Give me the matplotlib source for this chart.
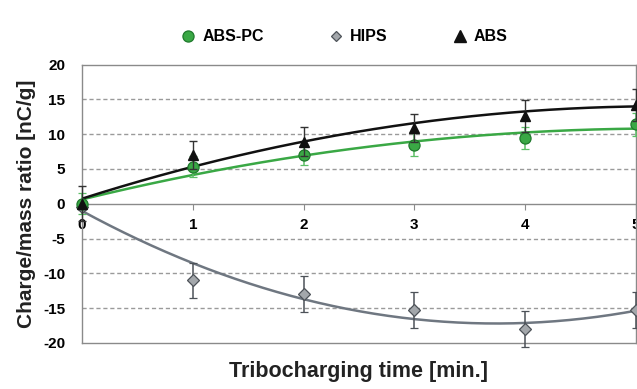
import numpy as np
import matplotlib
matplotlib.use("Agg")
import matplotlib.pyplot as plt
from matplotlib.lines import Line2D

plt.rcParams['font.family'] = ['Liberation Sans', 'DejaVu Sans']
plt.rcParams['font.weight'] = 'bold'

# ---- data ----
time_min = [0, 1, 2, 3, 4, 5]
abs_pc = [0.0, 5.3, 7.0, 8.5, 9.5, 11.4]
abs_pc_err = [1.5, 1.5, 1.5, 1.6, 1.6, 1.6]
hips = [-0.4, -11.0, -13.0, -15.3, -18.0, -15.3]
hips_err = [0.5, 2.5, 2.6, 2.6, 2.6, 2.6]
abs_ = [0.0, 7.0, 8.9, 10.9, 12.6, 14.2]
abs_err = [2.5, 2.0, 2.1, 2.0, 2.3, 2.3]

# quadratic trend-line coefficients (a, b, c)
fit_abs_pc = [-0.371, 3.89, 0.62]
fit_hips = [1.157, -8.651, -1.03]
fit_abs = [-0.484, 5.071, 0.73]

series_names = ["ABS-PC", "HIPS", "ABS"]
xtick_vals = [0, 1, 2, 3, 4, 5]
ytick_vals = [-20, -15, -10, -5, 0, 5, 10, 15, 20]

# ---- styles ----
green = "#3aa845"
green_dark = "#1f7a2c"
gray_fill = "#a3a7ab"
gray_edge = "#4d5258"
gray_line = "#6f7781"
black = "#111111"

fig = plt.figure(figsize=(6.37, 3.89), dpi=100)
fig.patch.set_facecolor("white")
ax = fig.add_axes([0.1287, 0.1183, 0.8697, 0.7157])

xs = np.linspace(0, 5, 200)
ax.plot(xs, np.polyval(fit_hips, xs), color=gray_line, lw=1.8, zorder=3)
ax.plot(xs, np.polyval(fit_abs_pc, xs), color=green, lw=1.8, zorder=3)
ax.plot(xs, np.polyval(fit_abs, xs), color=black, lw=1.8, zorder=4)

ax.errorbar(time_min, hips, yerr=hips_err, fmt="D", ms=6.5, mfc=gray_fill,
            mec=gray_edge, mew=0.9, ecolor=gray_edge, elinewidth=1.1,
            capsize=3, capthick=1.0, clip_on=False, zorder=5)
ax.errorbar(time_min, abs_pc, yerr=abs_pc_err, fmt="o", ms=8, mfc=green,
            mec=green_dark, mew=0.9, ecolor="#5cbf66", elinewidth=1.1,
            capsize=3, capthick=1.0, clip_on=False, zorder=5)
ax.errorbar(time_min, abs_, yerr=abs_err, fmt="^", ms=7.5, mfc=black,
            mec=black, ecolor="#333333", elinewidth=1.0,
            capsize=3, capthick=1.0, clip_on=False, zorder=6)

ax.set_xlim(0, 5)
ax.set_ylim(-20, 20)
ax.set_yticks(ytick_vals)
ax.set_yticklabels([str(v) for v in ytick_vals], fontsize=11, fontweight='bold')
ax.tick_params(axis='y', length=0, pad=12)
ax.tick_params(axis='x', bottom=False, labelbottom=False)

for v in ytick_vals:
    if v not in (-20, 0, 20):
        ax.axhline(v, color="#9a9a9a", lw=1.0, ls=(0, (3, 2)), zorder=1)

for s in ax.spines.values():
    s.set_color("#8a8a8a")
    s.set_linewidth(1.0)

sec = ax.secondary_xaxis(0.5)
sec.set_xticks(xtick_vals)
sec.set_xticklabels([str(v) for v in xtick_vals], fontsize=11, fontweight='bold')
sec.xaxis.set_ticks_position('bottom')
sec.tick_params(axis='x', bottom=True, top=False, labelbottom=True, labeltop=False,
                length=4, color="#8a8a8a", pad=6, direction='out')
for s in sec.spines.values():
    s.set_color("#8a8a8a")
    s.set_linewidth(1.0)

ax.set_ylabel("Charge/mass ratio [nC/g]", fontsize=15, fontweight='bold',
              color="#222222", labelpad=5)
ax.set_xlabel("Tribocharging time [min.]", fontsize=15.5, fontweight='bold',
              color="#222222", labelpad=13)

handles = [
    Line2D([], [], ls='none', marker='o', ms=8, mfc=green, mec=green_dark, mew=0.9),
    Line2D([], [], ls='none', marker='D', ms=5.5, mfc=gray_fill, mec=gray_edge, mew=0.9),
    Line2D([], [], ls='none', marker='^', ms=8, mfc=black, mec=black),
]
fig.legend(handles, series_names, loc='center', bbox_to_anchor=(0.54, 0.905),
           ncol=3, frameon=False, handlelength=1.0, handletextpad=0.4,
           columnspacing=4.0, prop={'size': 11.5, 'weight': 'bold'})

fig.savefig("out.png", dpi=100, facecolor="white")
